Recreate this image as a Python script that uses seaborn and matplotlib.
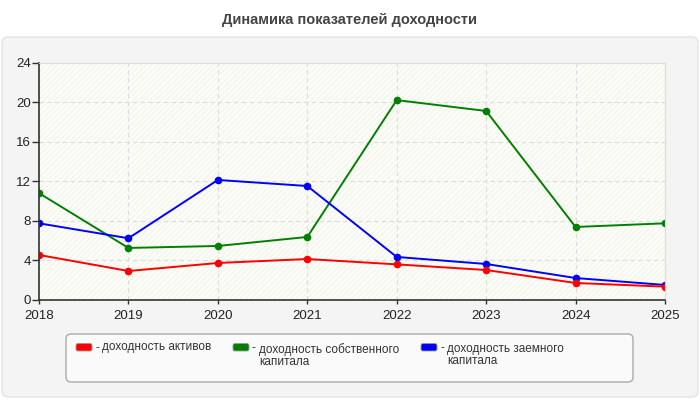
import numpy as np
import pandas as pd
import matplotlib
matplotlib.use("Agg")
import matplotlib.pyplot as plt
from matplotlib.patches import FancyBboxPatch, Rectangle
import seaborn as sns

# данные графика
years = [2018, 2019, 2020, 2021, 2022, 2023, 2024, 2025]
roa = [4.55, 2.93, 3.74, 4.14, 3.60, 3.03, 1.72, 1.35]
roe = [10.8, 5.26, 5.46, 6.37, 20.2, 19.1, 7.38, 7.75]
rod = [7.75, 6.24, 12.13, 11.52, 4.35, 3.64, 2.22, 1.52]
labels = ["доходность активов", "доходность собственного\nкапитала",
          "доходность заемного\nкапитала"]
colors = ["#ff0000", "#008000", "#0000ff"]
y_ticks = [0, 4, 8, 12, 16, 20, 24]

sns.set_style("white")
plt.rcParams['font.family'] = ['Liberation Sans', 'DejaVu Sans']

df = pd.DataFrame({"year": years * 3,
                   "value": roe + rod + roa,
                   "series": [labels[1]] * 8 + [labels[2]] * 8 + [labels[0]] * 8})

fig = plt.figure(figsize=(7, 4), dpi=100)
fig.patch.set_facecolor("white")
T = fig.dpi_scale_trans


def px(x, y):
    return x / 100, (400 - y) / 100


# серая подложка
x0, y0 = px(2, 397)
fig.add_artist(FancyBboxPatch((x0, y0), 6.96, 3.6,
                              boxstyle="round,pad=0,rounding_size=0.06",
                              transform=T, facecolor="#f4f4f4",
                              edgecolor="#e4e4e4", lw=1, zorder=0))

fig.text(3.5, (400 - 20) / 100, "Динамика показателей доходности", transform=T,
         ha="center", va="center", fontsize=10.5, fontweight="bold", color="#444444")

ax = fig.add_axes([39 / 700, 100 / 400, 626 / 700, 237.5 / 400])
ax.set_facecolor("#fdfdf8")
ax.add_patch(Rectangle((0, 0), 1, 1, transform=ax.transAxes, facecolor="#fdfdf8",
                       edgecolor="#f5f5f0", hatch="//////", lw=0, zorder=0))

pal = {labels[0]: colors[0], labels[1]: colors[1], labels[2]: colors[2]}
sns.lineplot(data=df, x="year", y="value", hue="series", palette=pal,
             hue_order=[labels[1], labels[2], labels[0]], marker="o",
             markersize=5.5, markeredgewidth=0, linewidth=1.4, legend=False, ax=ax)

ax.set_xlim(years[0], years[-1])
ax.set_ylim(0, 24)
ax.set_xticks(years)
ax.set_yticks(y_ticks)
ax.set_xlabel("")
ax.set_ylabel("")
ax.grid(True, color="#dcdcdc", linestyle=(0, (4, 3)), lw=0.8)
ax.set_axisbelow(True)
for s in ["top", "right"]:
    ax.spines[s].set_color("#dddddd")
for s in ["left", "bottom"]:
    ax.spines[s].set_color("#333333")
    ax.spines[s].set_linewidth(1.2)
ax.tick_params(axis="both", which="both", direction="out", width=1,
               color="#333333", labelsize=9.5, labelcolor="#222222")
ax.tick_params(axis="y", left=True, length=5, pad=1)
ax.tick_params(axis="x", bottom=True, length=3, pad=4)

# легенда
lx, ly = px(66, 382)
fig.add_artist(FancyBboxPatch((lx, ly), 5.67, 0.48,
                              boxstyle="round,pad=0,rounding_size=0.05",
                              transform=T, facecolor="#fafafa",
                              edgecolor="#aaaaaa", lw=1, zorder=1))
items = [(76, 341, labels[0]), (233, 343, labels[1]), (421, 343, labels[2])]
for (hx, ty, lab), c in zip(items, colors):
    bx, by = px(hx, 351)
    fig.add_artist(FancyBboxPatch((bx, by), 0.16, 0.075,
                                  boxstyle="round,pad=0,rounding_size=0.02",
                                  transform=T, facecolor=c, edgecolor="#999999",
                                  lw=0.6, zorder=2))
    fig.text(*px(hx + 19, 342), "-", transform=T, ha="left", va="top",
             fontsize=8.5, color="#333333", zorder=3)
    fig.text(*px(hx + 26, ty), lab, transform=T, ha="left", va="top",
             fontsize=8.5, color="#333333", linespacing=1.05, zorder=3)

fig.savefig("out.png", dpi=100)
